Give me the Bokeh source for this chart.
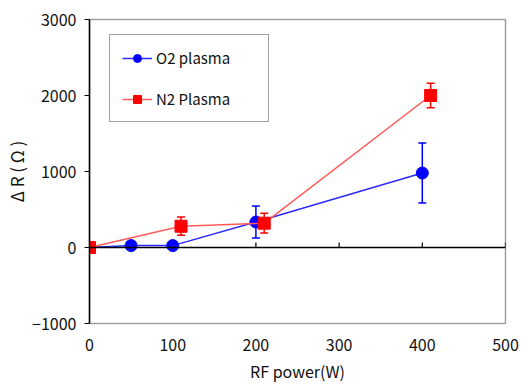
from bokeh.plotting import figure
from bokeh.models import ColumnDataSource, Whisker, Span, FixedTicker, TeeHead
from bokeh.embed import file_html
from bokeh.resources import INLINE

# data
o2_x = [0, 50, 100, 200, 400]
o2_y = [0, 25, 25, 335, 980]
o2_err = [0, 0, 0, 210, 395]

n2_x = [0, 110, 210, 410]
n2_y = [0, 280, 320, 2000]
n2_err = [0, 120, 130, 160]

x_ticks = [0, 100, 200, 300, 400, 500]
y_ticks = [-1000, 0, 1000, 2000, 3000]

FONT = "Noto Sans CJK JP"

p = figure(width=521, height=387, x_range=(0, 500), y_range=(-1000, 3000),
           output_backend="svg", toolbar_location=None,
           min_border_left=89, min_border_right=16, min_border_top=19, min_border_bottom=64)
p.grid.visible = False
p.outline_line_color = "#a0a0a0"
p.outline_line_width = 1.5
p.background_fill_color = "white"
p.border_fill_color = "white"

# x axis (labels at bottom)
xa = p.xaxis[0]
xa.ticker = FixedTicker(ticks=x_ticks)
xa.axis_line_color = None
xa.major_tick_line_color = None
xa.minor_tick_line_color = None
xa.major_label_standoff = 9
xa.major_label_text_font = FONT
xa.major_label_text_font_size = "16px"
xa.major_label_text_color = "#111111"
xa.axis_label = "RF power(W)"
xa.axis_label_text_font = FONT
xa.axis_label_text_font_size = "16px"
xa.axis_label_text_font_style = "normal"
xa.axis_label_standoff = 5
xa.axis_label_text_color = "#111111"

ya = p.yaxis[0]
ya.ticker = FixedTicker(ticks=y_ticks)
ya.axis_line_color = "black"
ya.axis_line_width = 1.5
ya.major_tick_line_color = "black"
ya.major_tick_line_width = 1.2
ya.major_tick_out = 5
ya.major_tick_in = 0
ya.minor_tick_line_color = None
ya.major_label_standoff = 8
ya.major_label_text_font = FONT
ya.major_label_text_font_size = "16px"
ya.major_label_text_color = "#111111"
ya.axis_label = "Δ R ( Ω )"
ya.axis_label_text_font = FONT
ya.axis_label_text_font_size = "17px"
ya.axis_label_text_font_style = "normal"
ya.axis_label_standoff = 0
ya.axis_label_text_color = "#111111"

# zero line with upward ticks
p.add_layout(Span(location=0, dimension="width", line_color="black", line_width=1.5))
tick_h = 4000 / 304 * 5
p.segment(x0=x_ticks[1:], x1=x_ticks[1:], y0=[0] * 5, y1=[tick_h] * 5,
          line_color="black", line_width=1.2)

# O2 series
o2_src = ColumnDataSource(dict(x=o2_x, y=o2_y,
                               lo=[y - e for y, e in zip(o2_y, o2_err)],
                               hi=[y + e for y, e in zip(o2_y, o2_err)]))
p.line("x", "y", source=o2_src, line_color="#2a2aff", line_width=1.5, legend_label="O2 plasma")
p.add_layout(Whisker(source=o2_src, base="x", upper="hi", lower="lo",
                     line_color="#0000ff", line_width=1.5,
                     upper_head=TeeHead(size=8, line_color="#0000ff", line_width=1.5),
                     lower_head=TeeHead(size=8, line_color="#0000ff", line_width=1.5)))
p.scatter("x", "y", source=o2_src, marker="circle", size=12, fill_color="#0000ff",
          line_color="#0000ff", legend_label="O2 plasma")

# N2 series
n2_src = ColumnDataSource(dict(x=n2_x, y=n2_y,
                               lo=[y - e for y, e in zip(n2_y, n2_err)],
                               hi=[y + e for y, e in zip(n2_y, n2_err)]))
p.line("x", "y", source=n2_src, line_color="#ff5a5a", line_width=1.5, legend_label="N2 Plasma")
p.add_layout(Whisker(source=n2_src, base="x", upper="hi", lower="lo",
                     line_color="#ff0000", line_width=1.5,
                     upper_head=TeeHead(size=8, line_color="#ff0000", line_width=1.5),
                     lower_head=TeeHead(size=8, line_color="#ff0000", line_width=1.5)))
p.scatter("x", "y", source=n2_src, marker="square", size=12, fill_color="#ff0000",
          line_color="#ff0000", legend_label="N2 Plasma")

lg = p.legend[0]
lg.location = (20, 201)
lg.border_line_color = "#444444"
lg.border_line_width = 1.5
lg.padding = 12
lg.spacing = 20
lg.glyph_width = 30
lg.glyph_height = 20
lg.label_standoff = 4
lg.label_width = 100
lg.label_text_font = FONT
lg.label_text_font_size = "15px"
lg.label_text_color = "#111111"
lg.margin = 0

open("out.html", "w").write(file_html(p, INLINE))
